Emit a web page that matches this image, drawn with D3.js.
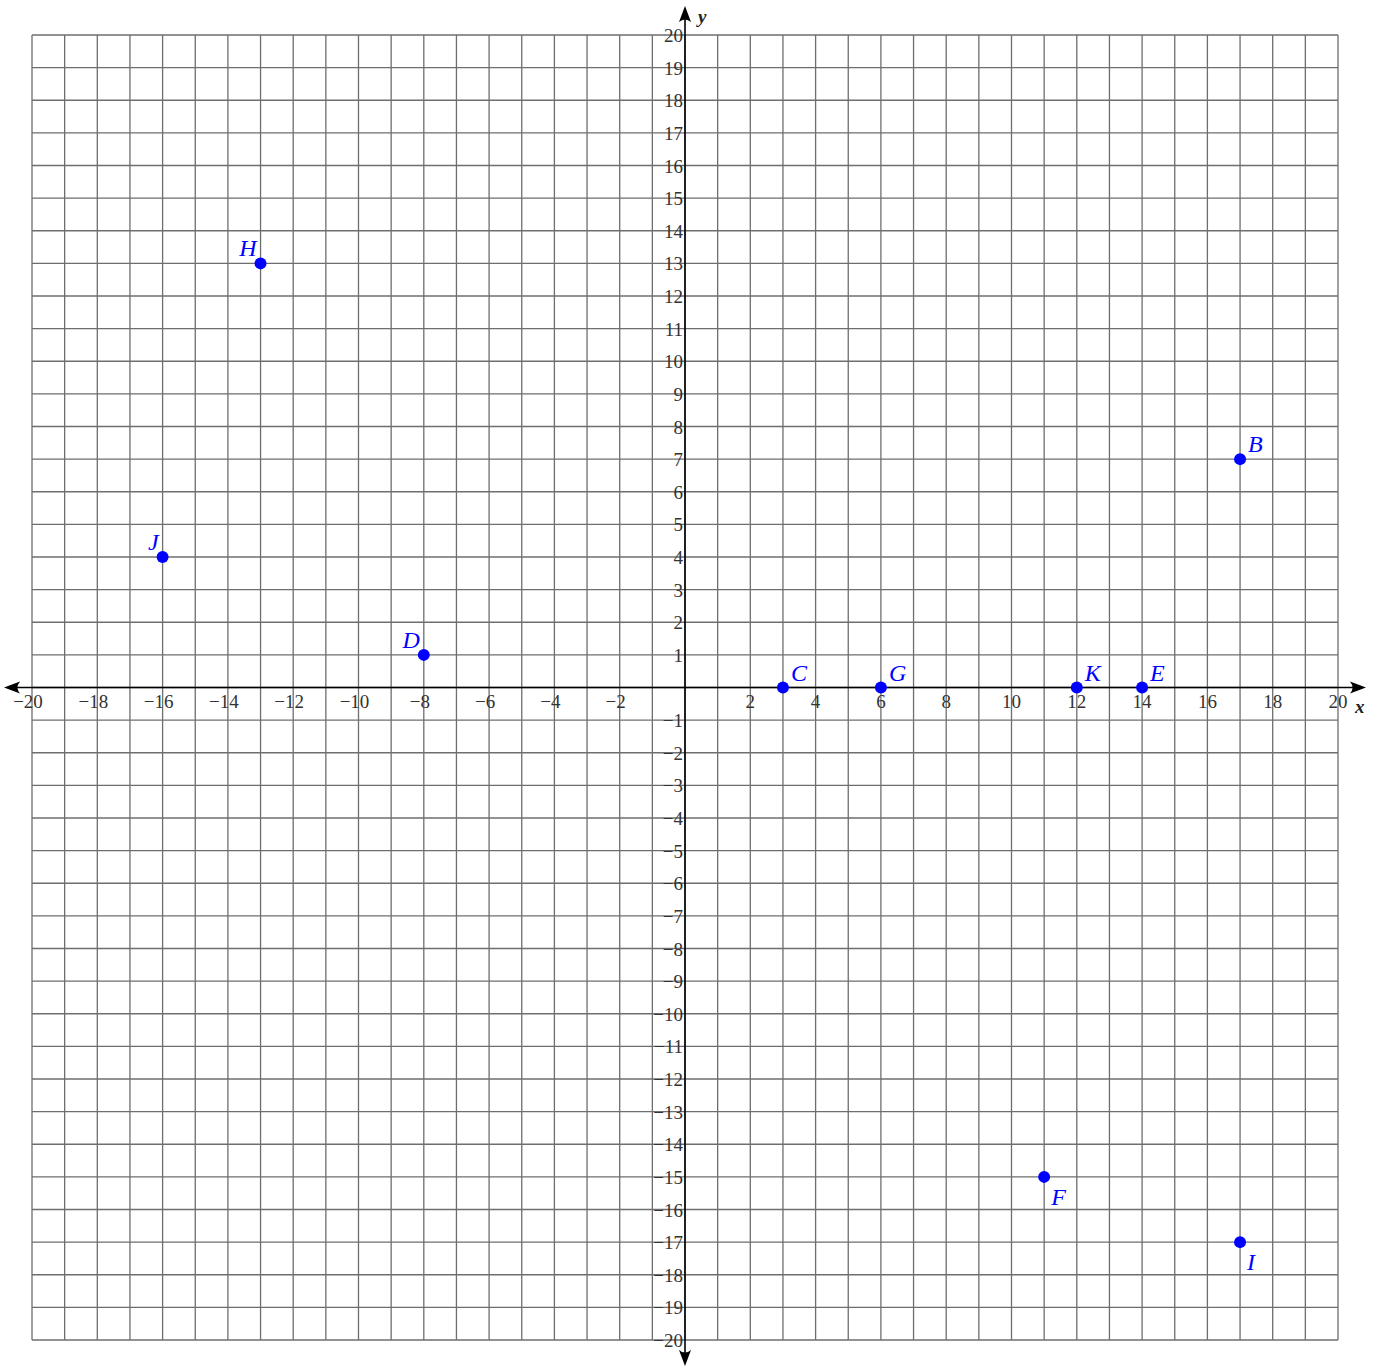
<!DOCTYPE html>
<html>
<head>
<meta charset="utf-8">
<script src="https://cdn.jsdelivr.net/npm/d3@7"></script>
<style>
  body { margin: 0; background: #fff; }
  svg { display: block; }
  .tick-label { font-family: "Liberation Serif", "DejaVu Serif", serif; font-size: 19px; fill: #333; }
  .pt-label { font-family: "Liberation Serif", "DejaVu Serif", serif; font-size: 24px; font-style: italic; fill: #0000ff; }
  .axis-name { font-family: "Liberation Serif", "DejaVu Serif", serif; font-size: 19px; font-style: italic; font-weight: bold; fill: #222; }
</style>
</head>
<body>
<svg id="chart" width="1380" height="1368"></svg>
<script>
// plotted points
const pointNames = ["B", "C", "D", "E", "F", "G", "H", "I", "J", "K"];
const pointX = [17, 3, -8, 14, 11, 6, -13, 17, -16, 12];
const pointY = [7, 0, 1, 0, -15, 0, 13, -17, 4, 0];
const labelSide = ["ne", "ne", "nw", "ne", "se", "ne", "nw", "se", "nw", "ne"];

// axis range and tick labels
const xMin = -20, xMax = 20, yMin = -20, yMax = 20;
const xTickLabels = d3.range(-20, 21, 2).filter(d => d !== 0);
const yTickLabels = d3.range(-20, 21, 1).filter(d => d !== 0);

const cfg = {
    left: 32, right: 1338, top: 35, bottom: 1340,
    gridColor: "#6e6e6e",
    pointColor: "#0000ff"
};

const x = d3.scaleLinear().domain([xMin, xMax]).range([cfg.left, cfg.right]);
const y = d3.scaleLinear().domain([yMin, yMax]).range([cfg.bottom, cfg.top]);

const svg = d3.select("#chart");
const fmt = d => (d < 0 ? "\u2212" + Math.abs(d) : String(d));

// grid
const grid = svg.append("g").attr("class", "grid");
grid.selectAll(".vline")
    .data(d3.range(xMin, xMax + 1))
    .enter().append("line")
    .attr("x1", d => x(d)).attr("x2", d => x(d))
    .attr("y1", cfg.top).attr("y2", cfg.bottom)
    .attr("stroke", cfg.gridColor).attr("stroke-width", 1.3);
grid.selectAll(".hline")
    .data(d3.range(yMin, yMax + 1))
    .enter().append("line")
    .attr("x1", cfg.left).attr("x2", cfg.right)
    .attr("y1", d => y(d)).attr("y2", d => y(d))
    .attr("stroke", cfg.gridColor).attr("stroke-width", 1.3);

// axes
const x0 = x(0), y0 = y(0);
const axes = svg.append("g").attr("class", "axes");
axes.append("line")
    .attr("x1", 8).attr("x2", 1362).attr("y1", y0).attr("y2", y0)
    .attr("stroke", "#000").attr("stroke-width", 1.6);
axes.append("line")
    .attr("x1", x0).attr("x2", x0).attr("y1", 10).attr("y2", 1362)
    .attr("stroke", "#000").attr("stroke-width", 1.6);

const arrow = "M0,0 L-16,-6 Q-11,0 -16,6 Z";
const arrows = [
    {x: 1366, y: y0, r: 0},
    {x: 4, y: y0, r: 180},
    {x: x0, y: 6, r: -90},
    {x: x0, y: 1366, r: 90}
];
axes.selectAll(".arrow")
    .data(arrows)
    .enter().append("path")
    .attr("d", arrow)
    .attr("transform", d => `translate(${d.x},${d.y}) rotate(${d.r})`)
    .attr("fill", "#000");

// tick labels
svg.append("g").selectAll("text")
    .data(xTickLabels)
    .enter().append("text")
    .attr("class", "tick-label")
    .attr("x", d => x(d) - (d < 0 ? 4 : 0))
    .attr("y", y0 + 20)
    .attr("text-anchor", "middle")
    .text(fmt);

svg.append("g").selectAll("text")
    .data(yTickLabels)
    .enter().append("text")
    .attr("class", "tick-label")
    .attr("x", x0 - 2)
    .attr("y", d => y(d) + 7)
    .attr("text-anchor", "end")
    .text(fmt);

svg.append("text").attr("class", "axis-name")
    .attr("x", x0 + 13).attr("y", 23).text("y");
svg.append("text").attr("class", "axis-name")
    .attr("x", 1355).attr("y", y0 + 25).text("x");

// points
const pts = pointNames.map((n, i) => ({name: n, x: pointX[i], y: pointY[i], side: labelSide[i]}));
svg.append("g").selectAll("circle")
    .data(pts)
    .enter().append("circle")
    .attr("cx", d => x(d.x))
    .attr("cy", d => y(d.y))
    .attr("r", 6)
    .attr("fill", cfg.pointColor);

const offs = {
    ne: {dx: 8, dy: -7, anchor: "start"},
    nw: {dx: -4, dy: -7, anchor: "end"},
    se: {dx: 7, dy: 28, anchor: "start"}
};
svg.append("g").selectAll("text")
    .data(pts)
    .enter().append("text")
    .attr("class", "pt-label")
    .attr("x", d => x(d.x) + offs[d.side].dx)
    .attr("y", d => y(d.y) + offs[d.side].dy)
    .attr("text-anchor", d => offs[d.side].anchor)
    .text(d => d.name);
</script>
</body>
</html>
